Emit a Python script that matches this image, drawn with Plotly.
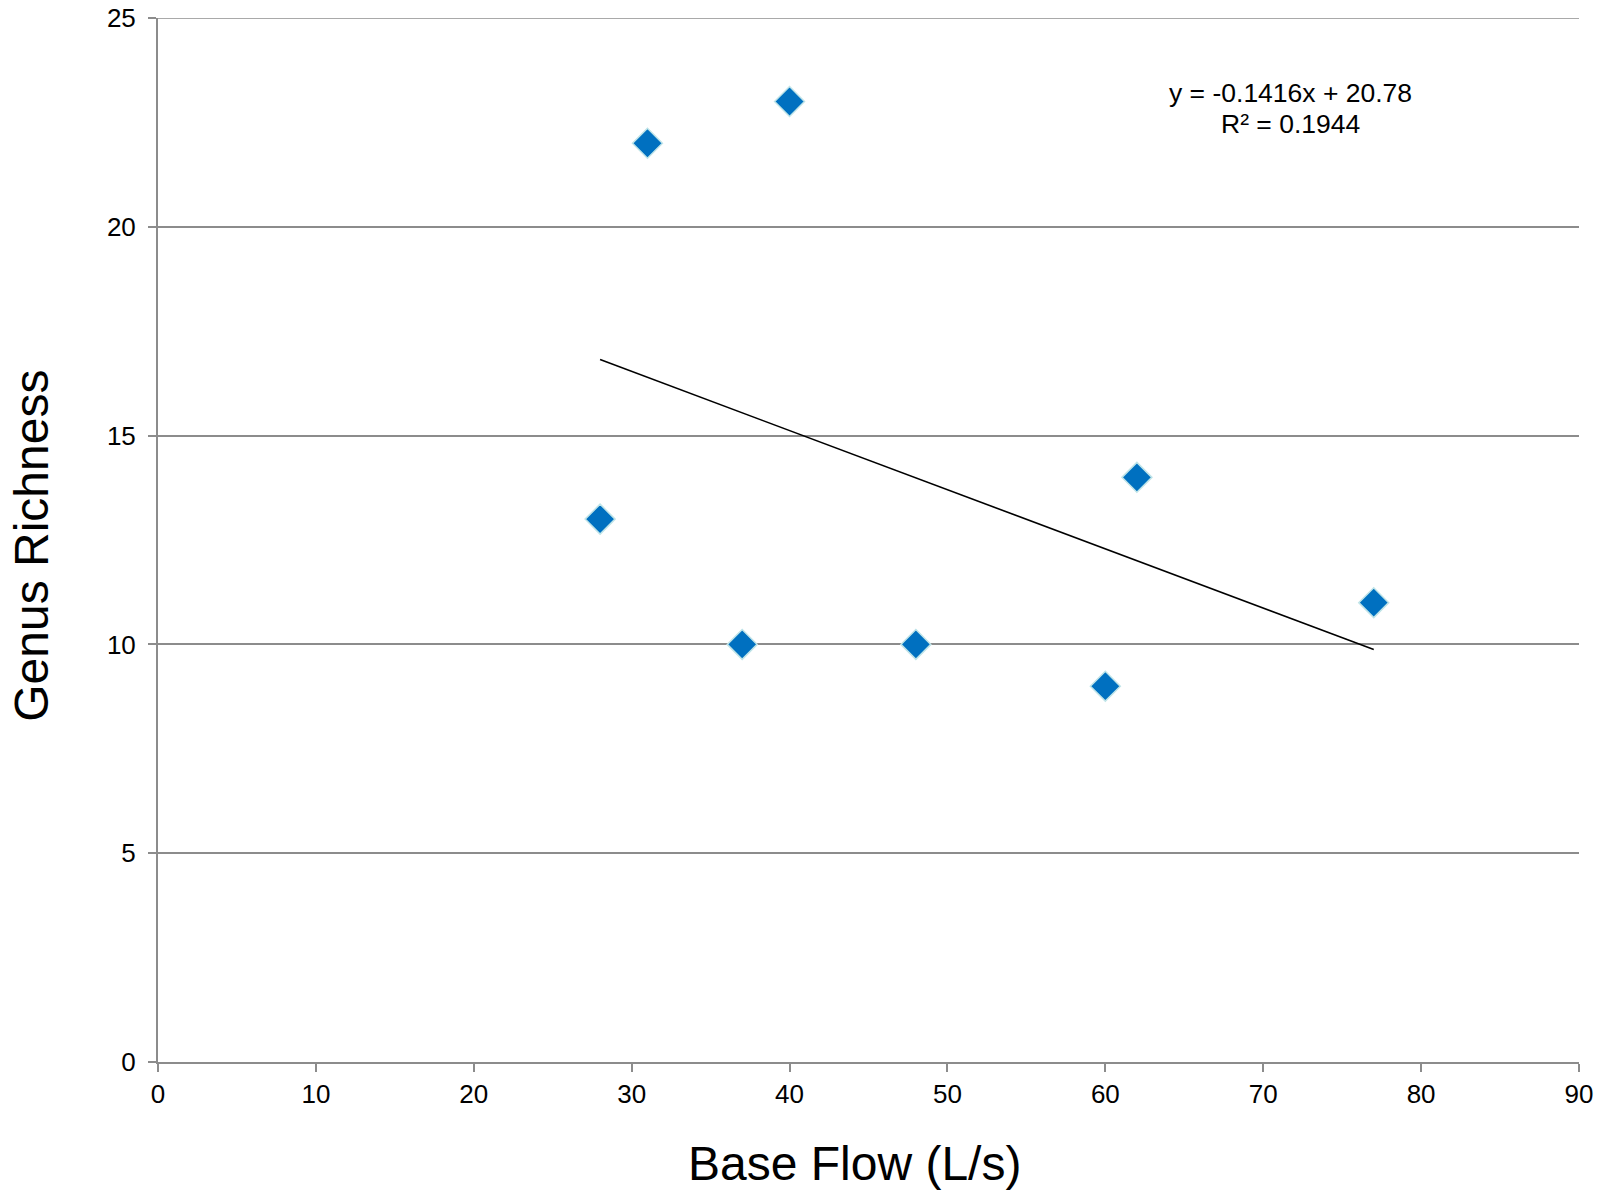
import plotly.graph_objects as go

# Base flow (L/s) vs genus richness
base_flow = [28, 31, 37, 40, 48, 60, 62, 77]
richness = [13, 22, 10, 23, 10, 9, 14, 11]

# linear trendline endpoints (as drawn)
trend_x = [28, 77]
trend_y = [16.82, 9.88]

eq_lines = ["y = -0.1416x + 20.78", "R² = 0.1944"]

FONT = "Arial, Liberation Sans, sans-serif"
GRID = "#8c8c8c"
Y_MAX = 25

fig = go.Figure()
fig.add_trace(go.Scatter(x=trend_x, y=trend_y, mode="lines",
                         line=dict(color="black", width=1.6), hoverinfo="skip"))
fig.add_trace(go.Scatter(x=base_flow, y=richness, mode="markers",
                         marker=dict(symbol="diamond", size=23, color="#0070c0",
                                     line=dict(color="#bfe4e8", width=1.5))))

# top gridline (plotly drops gridlines sitting on the range edge)
fig.add_shape(type="line", xref="paper", yref="y", x0=0, x1=1, y0=Y_MAX, y1=Y_MAX,
              line=dict(color=GRID, width=1.5))

# equation label, one annotation per line for tighter spacing
for txt, ypos in zip(eq_lines, [0.928, 0.898]):
    fig.add_annotation(x=0.797, y=ypos, xref="paper", yref="paper", text=txt,
                       showarrow=False, xanchor="center", yanchor="middle",
                       font=dict(size=26.5, color="black", family=FONT))
fig.add_annotation(x=0.49, y=-0.097, xref="paper", yref="paper", text="Base Flow (L/s)",
                   showarrow=False, xanchor="center", yanchor="middle",
                   font=dict(size=48, color="black", family=FONT))
fig.add_annotation(x=-0.089, y=0.494, xref="paper", yref="paper", text="Genus Richness",
                   showarrow=False, textangle=-90, xanchor="center", yanchor="middle",
                   borderpad=0, font=dict(size=48, color="black", family=FONT))

fig.update_xaxes(range=[0, 90], dtick=10, showgrid=False, zeroline=False, automargin=False,
                 showline=True, linecolor=GRID, linewidth=2,
                 ticks="outside", ticklen=8, tickcolor=GRID, tickwidth=2,
                 ticklabeloverflow="allow",
                 tickfont=dict(size=26, color="black", family=FONT))
fig.update_yaxes(range=[0, Y_MAX], dtick=5, showgrid=True, gridcolor=GRID, gridwidth=1.5,
                 zeroline=False, showline=True, linecolor=GRID, linewidth=2, automargin=False,
                 ticks="outside", ticklen=8, tickcolor=GRID, tickwidth=2,
                 ticklabeloverflow="allow", ticklabelstandoff=7,
                 tickfont=dict(size=26, color="black", family=FONT))

# page body adds 8px offset, margins compensate
fig.update_layout(width=1608, height=1193, showlegend=False,
                  plot_bgcolor="white", paper_bgcolor="white",
                  margin=dict(l=150, r=37, t=10, b=139),
                  font=dict(family=FONT))

fig.write_html("out.html")
